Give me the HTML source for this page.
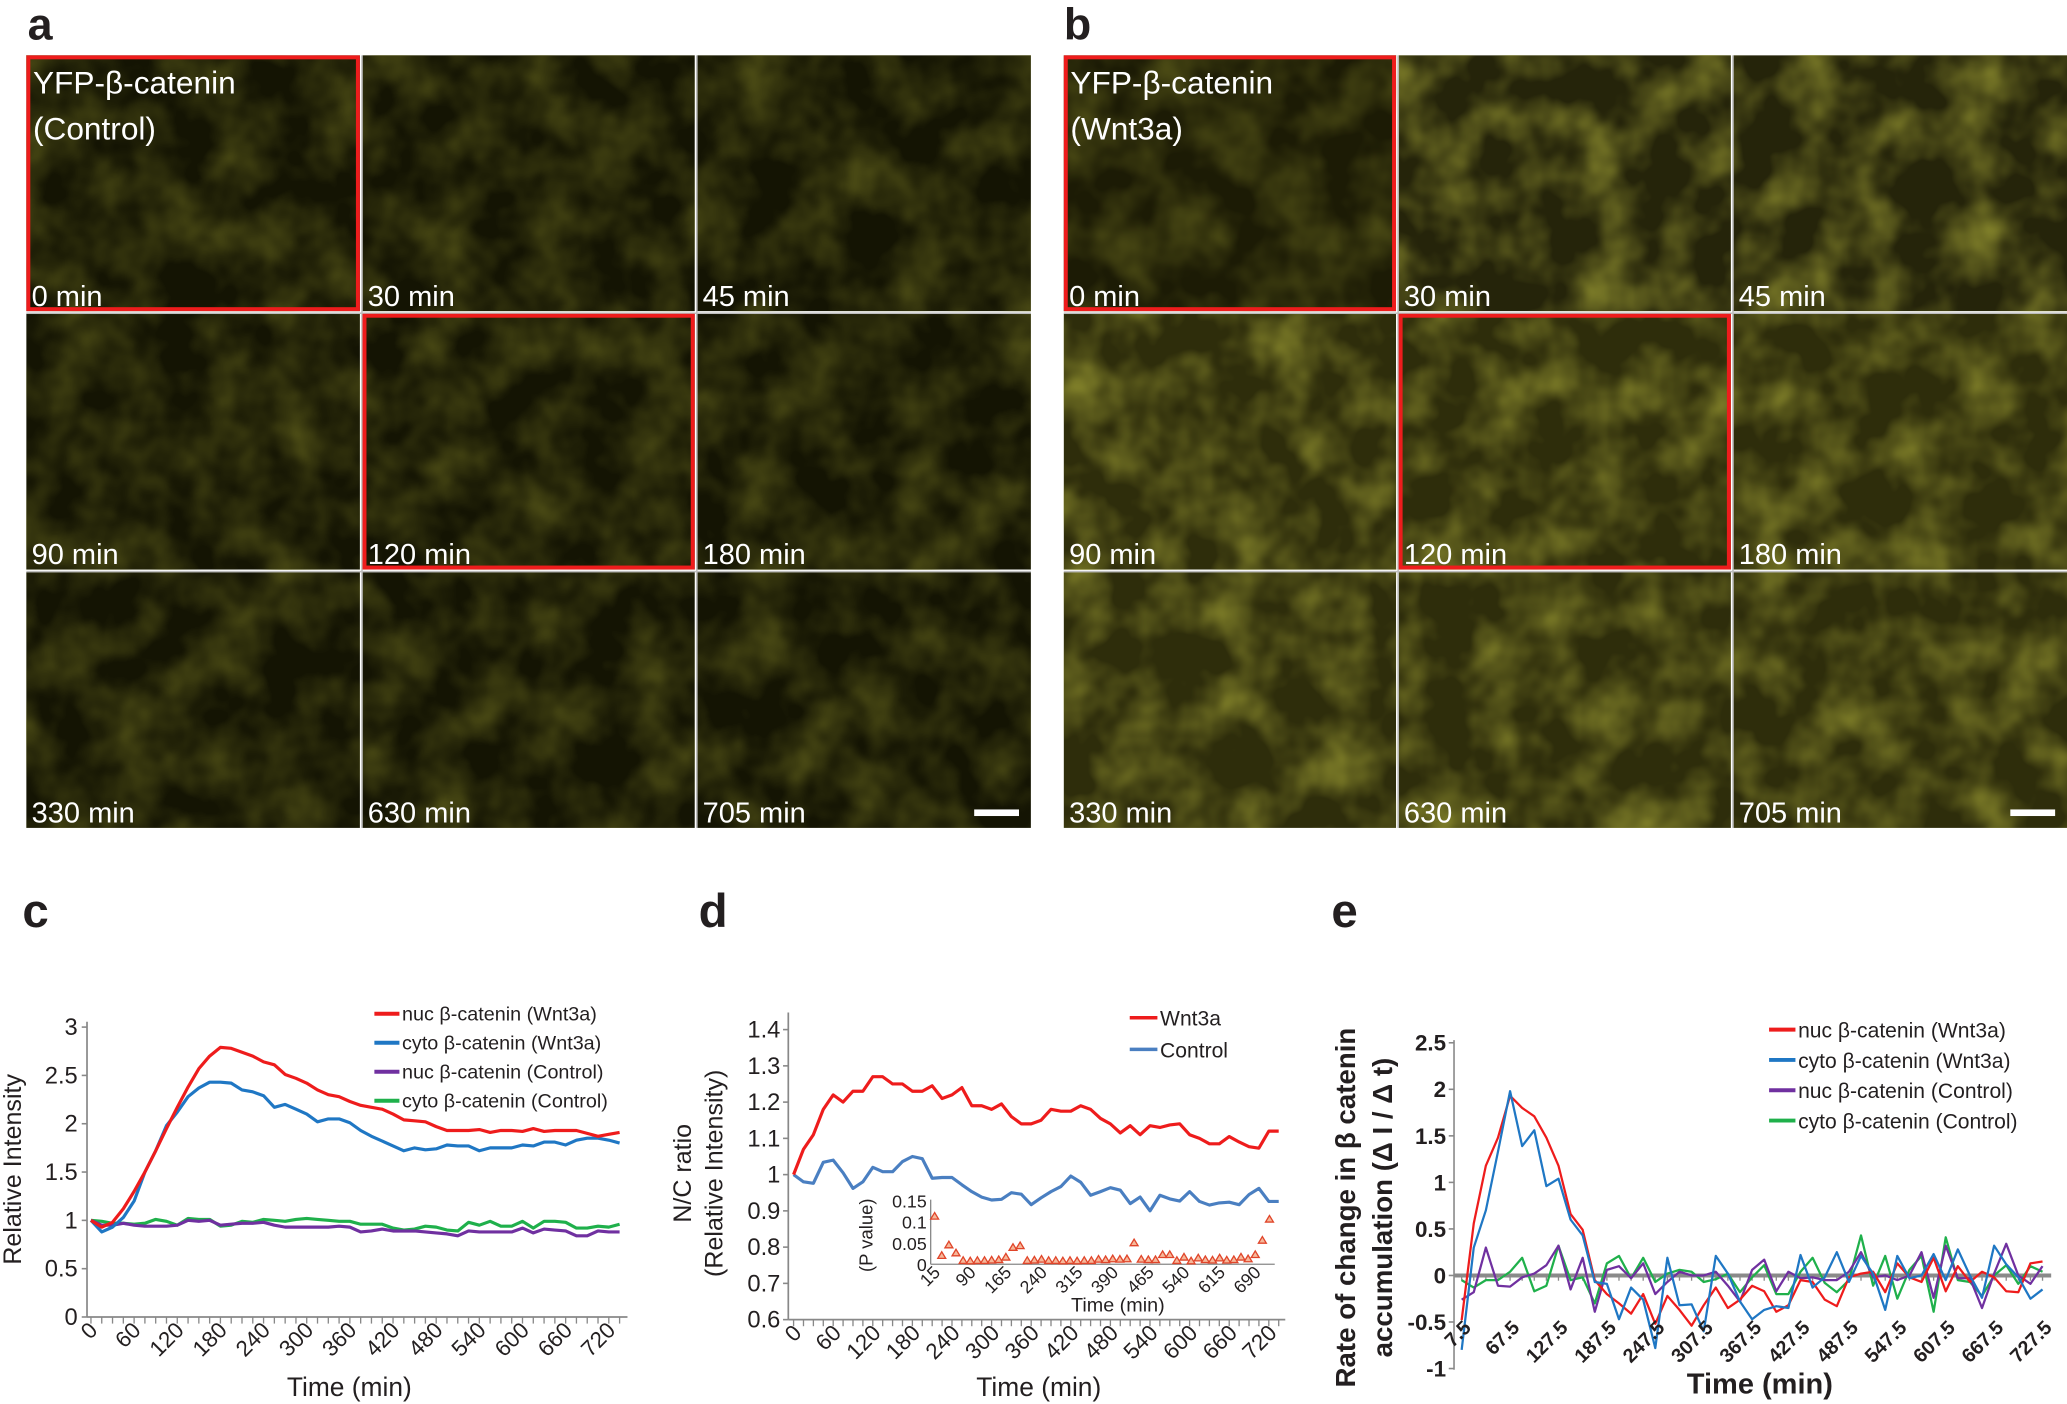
<!DOCTYPE html>
<html><head><meta charset="utf-8"><style>
html,body{margin:0;padding:0;background:#fff;}
svg{display:block;font-family:"Liberation Sans",Arial,sans-serif;}
</style></head><body>
<svg id="fig" width="2067" height="1404" viewBox="0 0 1568 1065" preserveAspectRatio="none" xmlns="http://www.w3.org/2000/svg">
<defs>
<filter id="cellsA" x="0" y="0" width="100%" height="100%">
<feTurbulence type="fractalNoise" baseFrequency="0.025" numOctaves="3" seed="3"/>
<feColorMatrix type="matrix" values="0 0 0 0 0.22  0 0 0 0 0.22  0 0 0 0 0.02  0 0 0 0.9 -0.3"/>
</filter>
<filter id="cellsB" x="0" y="0" width="100%" height="100%">
<feTurbulence type="fractalNoise" baseFrequency="0.025" numOctaves="3" seed="7"/>
<feColorMatrix type="matrix" values="0 0 0 0 0.40  0 0 0 0 0.40  0 0 0 0 0.04  0 0 0 1.2 -0.45"/>
</filter>
</defs>
<g id="photos"></g>
<g id="chartC"></g>
<g id="chartD"></g>
<g id="chartE"></g>
</svg>
<script>
const NS="http://www.w3.org/2000/svg";
// ---- chart data ----
const times = [0,15,30,45,60,75,90,105,120,135,150,165,180,195,210,225,240,255,270,285,300,315,330,345,360,375,390,405,420,435,450,465,480,495,510,525,540,555,570,585,600,615,630,645,660,675,690,705,720,735];
const cNucWnt = [1.0,0.93,0.98,1.12,1.3,1.5,1.72,1.95,2.17,2.38,2.57,2.7,2.79,2.78,2.74,2.7,2.64,2.61,2.51,2.47,2.42,2.35,2.3,2.28,2.23,2.19,2.17,2.15,2.1,2.04,2.03,2.02,1.97,1.93,1.93,1.93,1.94,1.91,1.93,1.93,1.92,1.95,1.92,1.93,1.93,1.93,1.9,1.87,1.89,1.91];
const cCytoWnt = [1.0,0.88,0.93,1.03,1.2,1.5,1.72,1.98,2.12,2.28,2.37,2.43,2.43,2.42,2.35,2.33,2.29,2.17,2.2,2.15,2.1,2.02,2.05,2.05,2.01,1.93,1.87,1.82,1.77,1.72,1.75,1.73,1.74,1.78,1.77,1.77,1.72,1.75,1.75,1.75,1.78,1.77,1.81,1.81,1.78,1.83,1.85,1.85,1.83,1.8];
const cNucCtl = [1.0,0.95,0.95,0.97,0.95,0.94,0.94,0.94,0.95,1.0,0.99,1.0,0.95,0.96,0.97,0.97,0.98,0.95,0.93,0.93,0.93,0.93,0.93,0.94,0.93,0.88,0.89,0.91,0.89,0.89,0.89,0.88,0.87,0.86,0.84,0.89,0.88,0.88,0.88,0.88,0.92,0.87,0.91,0.9,0.89,0.84,0.84,0.89,0.88,0.88];
const cCytoCtl = [1.0,0.99,0.97,0.97,0.96,0.97,1.01,0.99,0.95,1.02,1.01,1.01,0.94,0.95,0.99,0.98,1.01,1.0,0.99,1.01,1.02,1.01,1.0,0.99,0.99,0.96,0.96,0.96,0.92,0.9,0.91,0.94,0.93,0.9,0.89,0.98,0.95,0.99,0.94,0.94,0.99,0.92,0.99,0.99,0.98,0.92,0.92,0.94,0.93,0.96];
const cYTicks = [0,0.5,1,1.5,2,2.5,3];
const xTickLabels = [0,60,120,180,240,300,360,420,480,540,600,660,720];
const dWnt = [1.0,1.07,1.11,1.18,1.22,1.2,1.23,1.23,1.27,1.27,1.25,1.25,1.23,1.23,1.245,1.21,1.22,1.24,1.19,1.19,1.18,1.195,1.16,1.14,1.14,1.15,1.18,1.175,1.175,1.19,1.18,1.155,1.14,1.115,1.135,1.11,1.135,1.13,1.137,1.14,1.11,1.1,1.085,1.085,1.105,1.09,1.077,1.073,1.12,1.12];
const dCtl = [1.0,0.98,0.976,1.034,1.04,1.005,0.962,0.98,1.02,1.008,1.008,1.036,1.05,1.044,0.99,0.992,0.992,0.972,0.953,0.938,0.93,0.932,0.95,0.946,0.917,0.936,0.953,0.967,0.996,0.979,0.943,0.953,0.964,0.957,0.92,0.938,0.9,0.943,0.933,0.927,0.953,0.926,0.916,0.922,0.924,0.917,0.945,0.962,0.926,0.926];
const dYTicks = [0.6,0.7,0.8,0.9,1,1.1,1.2,1.3,1.4];
const pTimes = [15,30,45,60,75,90,105,120,135,150,165,180,195,210,225,240,255,270,285,300,315,330,345,360,375,390,405,420,435,450,465,480,495,510,525,540,555,570,585,600,615,630,645,660,675,690,705,720];
const pValues = [0.107,0.014,0.039,0.02,0.002,0.001,0.002,0.002,0.003,0.004,0.01,0.033,0.037,0.002,0.003,0.005,0.002,0.002,0.001,0.002,0.001,0.002,0.002,0.005,0.004,0.006,0.005,0.006,0.044,0.005,0.004,0.004,0.016,0.016,0.002,0.01,0.001,0.008,0.004,0.003,0.008,0.003,0.004,0.01,0.006,0.016,0.05,0.1,0.013,0.013].slice(0,48);
const pYTicks = [0,0.05,0.1,0.15];
const pXTickLabels = [15,90,165,240,315,390,465,540,615,690];
const eTimes = [7.5,22.5,37.5,52.5,67.5,82.5,97.5,112.5,127.5,142.5,157.5,172.5,187.5,202.5,217.5,232.5,247.5,262.5,277.5,292.5,307.5,322.5,337.5,352.5,367.5,382.5,397.5,412.5,427.5,442.5,457.5,472.5,487.5,502.5,517.5,532.5,547.5,562.5,577.5,592.5,607.5,622.5,637.5,652.5,667.5,682.5,697.5,712.5,727.5];
const eNucWnt = [-0.48,0.56,1.18,1.48,1.93,1.8,1.71,1.48,1.18,0.66,0.49,-0.05,-0.2,-0.3,-0.41,-0.2,-0.52,-0.22,-0.37,-0.54,-0.32,-0.13,-0.35,-0.26,-0.11,-0.17,-0.39,-0.32,-0.05,-0.07,-0.26,-0.33,-0.02,0.02,0.04,-0.18,0.13,-0.02,-0.07,0.19,-0.17,0.1,-0.07,0.04,-0.02,-0.17,-0.18,0.13,0.15];
const eCytoWnt = [-0.8,0.3,0.7,1.33,1.98,1.39,1.56,0.96,1.04,0.6,0.43,-0.07,-0.09,-0.47,-0.13,-0.26,-0.78,0.19,-0.32,-0.31,-0.6,0.21,0.02,-0.28,-0.47,-0.37,-0.33,-0.35,0.22,-0.13,-0.02,0.25,-0.07,0.21,0.02,-0.37,0.21,-0.03,0.0,0.23,-0.05,0.28,0.0,-0.24,0.32,0.12,-0.02,-0.25,-0.15];
const eNucCtl = [-0.26,-0.18,0.3,-0.11,-0.12,-0.02,0.02,0.11,0.32,-0.15,0.19,-0.39,0.06,0.1,-0.03,0.13,-0.2,-0.07,0.04,0.0,0.0,0.04,-0.11,-0.28,0.06,0.17,-0.17,0.04,-0.03,-0.02,-0.05,-0.05,0.04,0.25,-0.02,0.0,-0.05,0.0,0.25,-0.24,0.32,-0.03,-0.03,-0.35,0.02,0.34,0.0,-0.09,0.1];
const eCytoCtl = [-0.05,-0.13,-0.05,-0.05,0.04,0.19,-0.17,-0.11,0.32,-0.05,-0.02,-0.3,0.13,0.21,-0.03,0.19,-0.07,0.02,0.06,0.04,-0.07,-0.04,0.02,-0.18,-0.02,0.11,-0.2,-0.2,0.04,0.19,-0.08,-0.18,-0.05,0.43,-0.11,0.21,-0.25,0.06,0.21,-0.39,0.41,-0.05,-0.07,-0.22,0.0,0.11,-0.09,0.1,0.04];
const eYTicks = [-1,-0.5,0,0.5,1,1.5,2,2.5];
const eXTickLabels = [7.5,67.5,127.5,187.5,247.5,307.5,367.5,427.5,487.5,547.5,607.5,667.5,727.5];

function mk(tag, attrs, parent, txt){
  const el=document.createElementNS(NS,tag);
  for(const k in attrs) el.setAttribute(k,attrs[k]);
  if(txt!==undefined) el.textContent=txt;
  parent.appendChild(el);
  return el;
}
function poly(xs, ys, xf, yf, color, w, parent, name){
  const pts=xs.map((t,i)=>xf(t).toFixed(2)+","+yf(ys[i]).toFixed(2)).join(" ");
  const p=mk("polyline",{points:pts,fill:"none",stroke:color,"stroke-width":w,"stroke-linejoin":"round"},parent);
  
  
  return p;
}

// ---- photo panels ----
const photos=document.getElementById("photos");
const panelDefs=[
 {cols:[20,275,529],w:[253,252,253],bright:false,title:"(Control)",letter:"a",lx:21},
 {cols:[807,1061,1315],w:[252,252,253],bright:true,title:"(Wnt3a)",letter:"b",lx:807}
];
const rows=[42,238,434];
const times9=["0 min","30 min","45 min","90 min","120 min","180 min","330 min","630 min","705 min"];
panelDefs.forEach((pd,pi)=>{
  const lt=mk("text",{x:pd.lx,y:30,"font-size":34,"font-weight":"bold",fill:"#231f20"},photos,pd.letter);
  
  
  for(let r=0;r<3;r++)for(let c=0;c<3;c++){
    const x=pd.cols[c], y=rows[r], w=pd.w[c], h=194;
    const idx=r*3+c;
    const base = pd.bright ? (idx===0?"#1c1b05":(idx<3?"#25240a":"#2e2d0b")) : "#141403";
    const bg=mk("rect",{x:x,y:y,width:w,height:h,fill:base},photos);
    
    
    mk("rect",{x:x,y:y,width:w,height:h,filter:pd.bright&&idx>0?"url(#cellsB)":"url(#cellsA)"},photos);
    const lab=mk("text",{x:x+4,y:y+190,"font-size":22,fill:"#ffffff"},photos,times9[idx]);
    
    
  }
  [pd.cols[1]-1,pd.cols[2]-1].forEach(gx=>mk("rect",{x:gx,y:42,width:1.2,height:586,fill:"#bdbdbd"},photos));
  [237,433].forEach(gy=>mk("rect",{x:pd.cols[0],y:gy,width:pd.cols[2]+pd.w[2]-pd.cols[0],height:1.2,fill:"#bdbdbd"},photos));
  const rb1=mk("rect",{x:pd.cols[0]+1.5,y:43.5,width:pd.w[0]-3,height:191,fill:"none",stroke:"#ee1c1c","stroke-width":3},photos);
  
  
  const rb2=mk("rect",{x:pd.cols[1]+1.5,y:239.5,width:pd.w[1]-3,height:191,fill:"none",stroke:"#ee1c1c","stroke-width":3},photos);
  
  
  const t1=mk("text",{x:pd.cols[0]+5,y:71,"font-size":24,fill:"#fff"},photos,"YFP-β-catenin");
  
  
  mk("text",{x:pd.cols[0]+5,y:106,"font-size":24,fill:"#fff"},photos,pd.title);
  const sb=mk("rect",{x:pd.cols[2]+pd.w[2]-43,y:614,width:34,height:5,fill:"#fff"},photos);
  
  
});

// ---- chart c ----
(function(){
  const g=document.getElementById("chartC");
  const X=t=>69+t*0.5456, Y=v=>999-v*73.3;
  const L=mk("text",{x:17,y:703,"font-size":36,"font-weight":"bold",fill:"#231f20"},g,"c");
  
  
  mk("line",{x1:66,y1:775,x2:66,y2:999,stroke:"#888","stroke-width":1.3},g);
  mk("line",{x1:66,y1:999,x2:476,y2:999,stroke:"#888","stroke-width":1.3},g);
  cYTicks.forEach(v=>{
    mk("line",{x1:62,y1:Y(v),x2:66,y2:Y(v),stroke:"#888","stroke-width":1.2},g);
    const t=mk("text",{x:59,y:Y(v)+6,"font-size":18,"text-anchor":"end",fill:"#231f20"},g,String(v));
    
    
  });
  times.forEach(tt=>mk("line",{x1:X(tt),y1:999,x2:X(tt),y2:1004,stroke:"#888","stroke-width":1},g));
  xTickLabels.forEach(v=>{
    const t=mk("text",{x:X(v)+6,y:1010,"font-size":17,"text-anchor":"end",fill:"#231f20",transform:`rotate(-45 ${X(v)+6} 1010)`},g,String(v));
    
    
  });
  const yt=mk("text",{x:0,y:0,"font-size":19,"text-anchor":"middle",fill:"#231f20",transform:"translate(16 887) rotate(-90)"},g,"Relative Intensity");
  
  
  const xt=mk("text",{x:265,y:1059,"font-size":20,"text-anchor":"middle",fill:"#231f20"},g,"Time (min)");
  
  
  poly(times,cCytoCtl,X,Y,"#1fb04b",2.4,g,"line-cyto-control");
  poly(times,cNucCtl,X,Y,"#7030a0",2.4,g,"line-nuc-control");
  poly(times,cCytoWnt,X,Y,"#1f77c4",2.4,g,"line-cyto-wnt3a");
  poly(times,cNucWnt,X,Y,"#ee1c1c",2.4,g,"line-nuc-wnt3a");
  const leg=[["nuc β-catenin (Wnt3a)","#ee1c1c"],["cyto β-catenin (Wnt3a)","#1f77c4"],["nuc β-catenin (Control)","#7030a0"],["cyto β-catenin (Control)","#1fb04b"]];
  leg.forEach((l,i)=>{
    const y=769+i*22;
    mk("line",{x1:284,y1:y,x2:303,y2:y,stroke:l[1],"stroke-width":3},g);
    const t=mk("text",{x:305,y:y+5,"font-size":15,fill:"#231f20"},g,l[0]);
    
    
  });
})();

// ---- chart d ----
(function(){
  const g=document.getElementById("chartD");
  const X=t=>602+t*0.5007, Y=v=>1001-(v-0.6)*275;
  const L=mk("text",{x:530,y:703,"font-size":36,"font-weight":"bold",fill:"#231f20"},g,"d");
  
  
  mk("line",{x1:598,y1:768,x2:598,y2:1001,stroke:"#888","stroke-width":1.3},g);
  mk("line",{x1:598,y1:1001,x2:975,y2:1001,stroke:"#888","stroke-width":1.3},g);
  dYTicks.forEach(v=>{
    mk("line",{x1:594,y1:Y(v),x2:598,y2:Y(v),stroke:"#888","stroke-width":1.2},g);
    const t=mk("text",{x:592,y:Y(v)+6,"font-size":18,"text-anchor":"end",fill:"#231f20"},g,(v===1?"1":v.toFixed(1)));
    
    
  });
  times.forEach(tt=>mk("line",{x1:X(tt),y1:1001,x2:X(tt),y2:1006,stroke:"#888","stroke-width":1},g));
  xTickLabels.forEach(v=>{
    const t=mk("text",{x:X(v)+7,y:1012,"font-size":17,"text-anchor":"end",fill:"#231f20",transform:`rotate(-45 ${X(v)+7} 1012)`},g,String(v));
    
    
  });
  const y1=mk("text",{x:0,y:0,"font-size":19,"text-anchor":"middle",fill:"#231f20",transform:"translate(524 890) rotate(-90)"},g,"N/C ratio");
  
  
  mk("text",{x:0,y:0,"font-size":19,"text-anchor":"middle",fill:"#231f20",transform:"translate(548 890) rotate(-90)"},g,"(Relative Intensity)");
  const xt=mk("text",{x:788,y:1059,"font-size":20,"text-anchor":"middle",fill:"#231f20"},g,"Time (min)");
  
  
  poly(times,dCtl,X,Y,"#4a7fc1",2.4,g,"line-control");
  poly(times,dWnt,X,Y,"#ee1c1c",2.4,g,"line-wnt3a");
  [["Wnt3a","#ee1c1c",772],["Control","#4a7fc1",796]].forEach(l=>{
    mk("line",{x1:857,y1:l[2],x2:878,y2:l[2],stroke:l[1],"stroke-width":2.6},g);
    const t=mk("text",{x:880,y:l[2]+6,"font-size":16,fill:"#231f20"},g,l[0]);
    
    
  });
  const PX=t=>709+(t-15)*0.3603, PY=p=>959-p*320;
  const ins=mk("g",{},g);
  
  
  mk("line",{x1:706,y1:910,x2:706,y2:959,stroke:"#888","stroke-width":1},ins);
  mk("line",{x1:706,y1:959,x2:967,y2:959,stroke:"#888","stroke-width":1},ins);
  pYTicks.forEach(v=>{
    const t=mk("text",{x:703,y:PY(v)+5,"font-size":13.5,"text-anchor":"end",fill:"#231f20"},ins,String(v));
    
    
  });
  pXTickLabels.forEach(v=>{
    const t=mk("text",{x:PX(v)+5,y:966,"font-size":13.5,"text-anchor":"end",fill:"#231f20",transform:`rotate(-45 ${PX(v)+5} 966)`},ins,String(v));
    
    
  });
  pTimes.forEach((tt,i)=>{
    const x=PX(tt), y=PY(pValues[i])-2;
    const tri=mk("polygon",{points:`${x},${y-3} ${x-3},${y+2} ${x+3},${y+2}`,fill:"#f6b89a",stroke:"#e0452a","stroke-width":1},ins);
    
    
  });
  mk("text",{x:0,y:0,"font-size":14,"text-anchor":"middle",fill:"#231f20",transform:"translate(662 937) rotate(-90)"},ins,"(P value)");
  mk("text",{x:848,y:995,"font-size":15,"text-anchor":"middle",fill:"#231f20"},ins,"Time (min)");
})();

// ---- chart e ----
(function(){
  const g=document.getElementById("chartE");
  const X=t=>1108.8+(t-7.5)*0.612, Y=v=>791+(2.5-v)*70.6;
  const L=mk("text",{x:1010,y:703,"font-size":36,"font-weight":"bold",fill:"#231f20"},g,"e");
  
  
  mk("line",{x1:1103,y1:789,x2:1103,y2:1039,stroke:"#888","stroke-width":1.2},g);
  eYTicks.forEach(v=>{
    mk("line",{x1:1099,y1:Y(v),x2:1103,y2:Y(v),stroke:"#888","stroke-width":1.2},g);
    const t=mk("text",{x:1097,y:Y(v)+6,"font-size":17,"font-weight":"bold","text-anchor":"end",fill:"#231f20"},g,String(v));
    
    
  });
  const z=mk("line",{x1:1103,y1:Y(0),x2:1556,y2:Y(0),stroke:"#8a8a8a","stroke-width":3},g);
  
  
  eTimes.forEach(tt=>mk("line",{x1:X(tt),y1:Y(0),x2:X(tt),y2:Y(0)+4,stroke:"#8a8a8a","stroke-width":1},g));
  poly(eTimes,eCytoCtl,X,Y,"#1fb04b",1.7,g,"line-cyto-control");
  poly(eTimes,eNucCtl,X,Y,"#7030a0",1.7,g,"line-nuc-control");
  poly(eTimes,eNucWnt,X,Y,"#ee1c1c",1.7,g,"line-nuc-wnt3a");
  poly(eTimes,eCytoWnt,X,Y,"#1f77c4",1.7,g,"line-cyto-wnt3a");
  eXTickLabels.forEach(v=>{
    const t=mk("text",{x:X(v)+8,y:1008,"font-size":15,"font-weight":"bold","text-anchor":"end",fill:"#231f20",transform:`rotate(-45 ${X(v)+8} 1008)`},g,String(v));
    
    
  });
  const y1=mk("text",{x:0,y:0,"font-size":21,"font-weight":"bold","text-anchor":"middle",fill:"#231f20",transform:"translate(1028 916) rotate(-90)"},g,"Rate of change in β catenin");
  
  
  mk("text",{x:0,y:0,"font-size":21,"font-weight":"bold","text-anchor":"middle",fill:"#231f20",transform:"translate(1056 916) rotate(-90)"},g,"accumulation (Δ I / Δ t)");
  const xt=mk("text",{x:1335,y:1057,"font-size":22,"font-weight":"bold","text-anchor":"middle",fill:"#231f20"},g,"Time (min)");
  
  
  const leg=[["nuc β-catenin (Wnt3a)","#ee1c1c"],["cyto β-catenin (Wnt3a)","#1f77c4"],["nuc β-catenin (Control)","#7030a0"],["cyto β-catenin (Control)","#1fb04b"]];
  leg.forEach((l,i)=>{
    const y=781+i*23;
    mk("line",{x1:1342,y1:y,x2:1362,y2:y,stroke:l[1],"stroke-width":3},g);
    const t=mk("text",{x:1364,y:y+6,"font-size":16,fill:"#231f20"},g,l[0]);
    
    
  });
})();
</script>
</body></html>
